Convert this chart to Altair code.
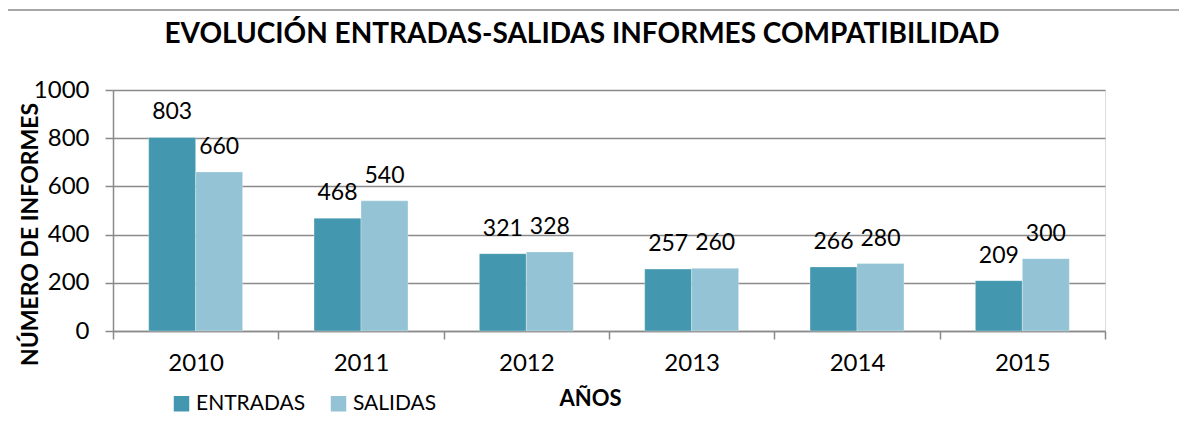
import altair as alt
import pandas as pd

years = ["2010", "2011", "2012", "2013", "2014", "2015"]
entradas = [803, 468, 321, 257, 266, 209]
salidas = [660, 540, 328, 260, 280, 300]
series = ["ENTRADAS", "SALIDAS"]
colors = ["#4398B0", "#93C3D5"]
title_text = "EVOLUCIÓN  ENTRADAS-SALIDAS  INFORMES COMPATIBILIDAD"

rows = []
for i, y in enumerate(years):
    rows.append({"year": y, "serie": series[0], "value": entradas[i]})
    rows.append({"year": y, "serie": series[1], "value": salidas[i]})
df = pd.DataFrame(rows)

FONT = "Lato"
GRAY = "#8a8a8a"

x_enc = alt.X(
    "year:N",
    sort=years,
    scale=alt.Scale(paddingInner=0, paddingOuter=0),
    axis=alt.Axis(
        title="AÑOS",
        labelAngle=0,
        labelFontSize=24,
        labelFont=FONT,
        labelColor="#000000",
        labelPadding=12,
        tickBand="extent",
        tickSize=8,
        tickColor=GRAY,
        tickWidth=1.5,
        domainColor=GRAY,
        domainWidth=1.5,
        titleFont=FONT,
        titleFontSize=22,
        titleFontWeight="bold",
        titleColor="#000000",
        titleX=477,
        titleY=67,
        titleBaseline="middle",
        titleAlign="center",
        titleAnchor="start",
    ),
)
y_enc = alt.Y(
    "value:Q",
    scale=alt.Scale(domain=[0, 1000]),
    axis=alt.Axis(
        title="NÚMERO DE INFORMES",
        values=[0, 200, 400, 600, 800, 1000],
        format="d",
        labelFontSize=24,
        labelFont=FONT,
        labelColor="#000000",
        labelPadding=16,
        tickSize=8,
        tickColor=GRAY,
        tickWidth=1.5,
        domainColor=GRAY,
        domainWidth=1.5,
        gridColor=GRAY,
        gridWidth=1.5,
        titleFont=FONT,
        titleFontSize=23,
        titleFontWeight="bold",
        titleColor="#000000",
        titleX=-83,
        titleY=144,
        titleBaseline="middle",
        titleAlign="center",
        titleAnchor="start",
    ),
)
xo_enc = alt.XOffset("serie:N", sort=series, scale=alt.Scale(paddingOuter=0.76, paddingInner=0))

bars = alt.Chart(df).mark_bar(stroke="#ffffff", strokeWidth=0.6, strokeOpacity=0.5).encode(
    x=x_enc,
    xOffset=xo_enc,
    y=y_enc,
    color=alt.Color(
        "serie:N",
        sort=series,
        scale=alt.Scale(domain=series, range=colors),
        legend=alt.Legend(
            title=None,
            orient="none",
            legendX=58,
            legendY=303,
            direction="horizontal",
            symbolType="square",
            symbolSize=240,
            symbolStrokeWidth=0,
            labelFont=FONT,
            labelFontSize=21,
            labelColor="#000000",
            labelOffset=4,
            columnPadding=22,
        ),
    ),
)

labels = alt.Chart(df).mark_text(
    baseline="middle", align="center", dy=-25, fontSize=23, font=FONT, color="#000000"
).encode(
    x=alt.X("year:N", sort=years),
    xOffset=alt.XOffset("serie:N", sort=series),
    y="value:Q",
    text="value:Q",
)

border_df = pd.DataFrame({"b": [1]})
border = alt.Chart(border_df).mark_rect(
    fill=None, stroke=GRAY, strokeWidth=1.5, clip=False
).encode(
    x=alt.value(-106), x2=alt.value(1200), y=alt.value(-80), y2=alt.value(420)
)

title_df = pd.DataFrame({"t": [title_text]})
title = alt.Chart(title_df).mark_text(
    font=FONT, fontSize=28, fontWeight="bold", color="#000000",
    align="center", baseline="middle", clip=False
).encode(
    x=alt.value(469), y=alt.value(-55), text="t:N"
)

chart = alt.layer(border, bars, labels, title).properties(
    width=992,
    height=241,
    autosize=alt.AutoSizeParams(type="none"),
    padding={"left": 105, "top": 82, "right": 74, "bottom": 88},
).configure_view(stroke=None).configure(background="#ffffff")

chart.save("out.html", embed_options={"renderer": "svg", "actions": False})
